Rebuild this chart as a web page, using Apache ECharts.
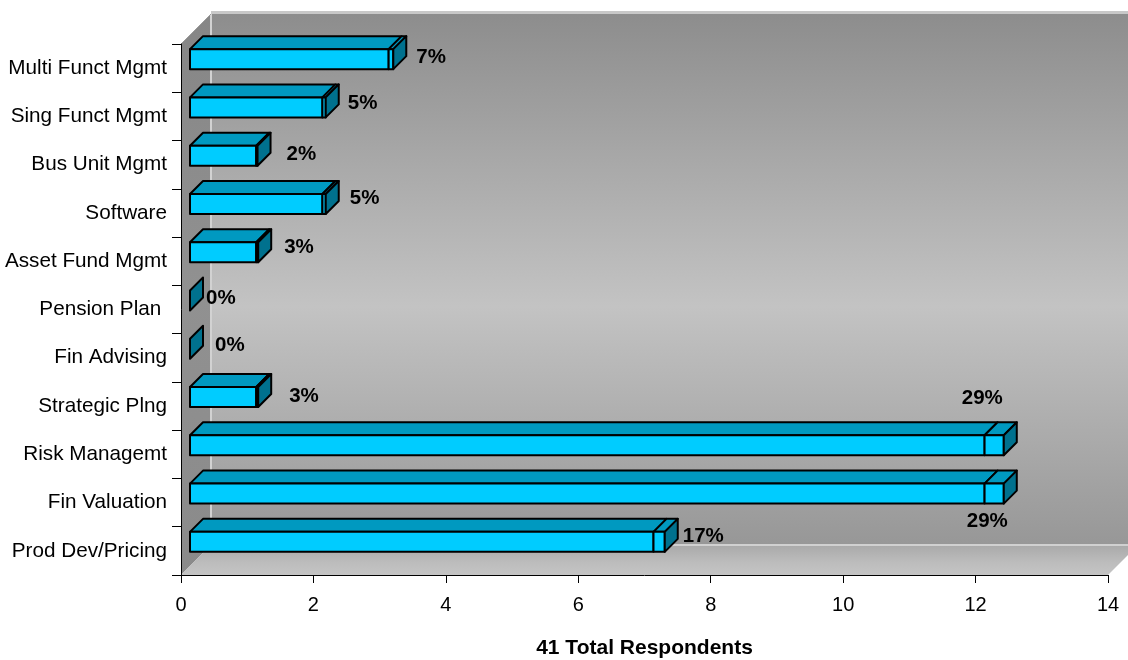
<!DOCTYPE html>
<html>
<head>
<meta charset="utf-8">
<script src="https://cdn.jsdelivr.net/npm/echarts@6/dist/echarts.min.js"></script>
<style>
  html, body { margin: 0; padding: 0; background: #ffffff; }
  #chart { width: 1128px; height: 660px; }
</style>
</head>
<body>
<div id="chart"></div>
<script>
// Categories listed bottom to top (a category y-axis starts at the bottom)
const categories = [
  'Prod Dev/Pricing', 'Fin Valuation', 'Risk Managemt', 'Strategic Plng',
  'Fin Advising', 'Pension Plan ', 'Asset Fund Mgmt', 'Software',
  'Bus Unit Mgmt', 'Sing Funct Mgmt', 'Multi Funct Mgmt'
];
// Number of respondents per category
const respondents = [7, 12, 12, 1, 0, 0, 1, 2, 1, 2, 3];
// Share of the 41 respondents, stacked on the end of each bar
const shares = [0.17, 0.29, 0.29, 0.03, 0, 0, 0.03, 0.05, 0.02, 0.05, 0.07];
// Value axis ticks
const axisMin = 0, axisMax = 14, axisStep = 2;
const axisTitle = '41 Total Respondents';

// Layout: label offsets (px) from the end of each bar's side face
const labelNudge = [
  [5, -6], [-50, 27.5], [-55, -47], [18, -1], [12, -3], [3, -2],
  [13, -5], [11, -6], [16, -1], [9, -4], [10, -1.5]
];

const FONT = '"Liberation Sans", Arial, Helvetica, sans-serif';
const DEPTH = 30;      // depth of the 3D box (walls / floor)
const BAR_OFF = 9;     // front face of the bars sits this far inside the box
const BAR_DEPTH = 13;  // bar thickness in depth
const BAR_FRAC = 0.414;
const FRONT = '#00CCFF', TOP = '#0099C0', SIDE = '#00718E';

const seriesData = categories.map((c, i) => [i, respondents[i], shares[i]]);

function wallsRender(params, api) {
  const cs = params.coordSys;
  const x0 = cs.x, y0 = cs.y, x1 = cs.x + cs.width, y1 = cs.y + cs.height;
  const D = DEPTH;
  const G = echarts.graphic.LinearGradient;
  return {
    type: 'group',
    children: [
      { type: 'rect', shape: { x: x0 + D, y: y0 - D, width: cs.width + 2, height: cs.height },
        style: { fill: new G(0, 0, 0, 1, [
          { offset: 0, color: '#8d8d8d' },
          { offset: 0.55, color: '#c3c3c3' },
          { offset: 1, color: '#979797' }]) } },
      { type: 'polygon', shape: { points: [[x0, y0], [x0 + D, y0 - D], [x0 + D, y1 - D], [x0, y1]] },
        style: { fill: new G(0, 0, 0, 1, [
          { offset: 0, color: '#868686' },
          { offset: 0.5, color: '#919191' },
          { offset: 1, color: '#8a8a8a' }]) } },
      { type: 'polygon', shape: { points: [[x0, y1], [x0 + D, y1 - D], [x1 + D, y1 - D], [x1, y1]] },
        style: { fill: new G(0, 0, 0, 1, [
          { offset: 0, color: '#a9a9a9' },
          { offset: 0.6, color: '#bdbdbd' },
          { offset: 1, color: '#c4c4c4' }]) } },
      { type: 'line', shape: { x1: x0 + D, y1: y0 - D, x2: x0 + D, y2: y1 - D },
        style: { stroke: '#d2d2d2', lineWidth: 2 } },
      { type: 'line', shape: { x1: x0 + D, y1: y0 - D - 1.5, x2: x1 + D + 4, y2: y0 - D - 1.5 },
        style: { stroke: '#c8c8c8', lineWidth: 3 } },
      { type: 'line', shape: { x1: x0 + D, y1: y1 - D, x2: x1 + D + 4, y2: y1 - D },
        style: { stroke: '#d0d0d0', lineWidth: 2 } },
      { type: 'line', shape: { x1: x0, y1: y0, x2: x0 + D, y2: y0 - D },
        style: { stroke: '#9a9a9a', lineWidth: 1 } }
    ]
  };
}

function barRender(params, api) {
  const idx = api.value(0), n = api.value(1), s = api.value(2);
  const p0 = api.coord([0, idx]);
  const p1 = api.coord([n, idx]);
  const p2 = api.coord([n + s, idx]);
  const h = api.size([0, 1])[1] * BAR_FRAC;
  const top = p0[1] - BAR_OFF - h / 2, bot = top + h;
  const xa = p0[0] + BAR_OFF, xb = p1[0] + BAR_OFF, xc = p2[0] + BAR_OFF;
  const d = BAR_DEPTH;
  const edge = { stroke: '#000', lineWidth: 2, lineJoin: 'round' };
  const kids = [];
  const segs = [[xa, xb], [xb, xc]];
  segs.forEach(([l, r]) => {
    if (r - l < 0.5) return;
    kids.push({ type: 'polygon',
      shape: { points: [[l, top], [l + d, top - d], [r + d, top - d], [r, top]] },
      style: Object.assign({ fill: TOP }, edge) });
    kids.push({ type: 'rect', shape: { x: l, y: top, width: r - l, height: h },
      style: Object.assign({ fill: FRONT }, edge) });
  });
  kids.push({ type: 'polygon',
    shape: { points: [[xc, top], [xc + d, top - d], [xc + d, bot - d], [xc, bot]] },
    style: Object.assign({ fill: SIDE }, edge) });
  const nudge = labelNudge[idx];
  kids.push({ type: 'text', z2: 10,
    style: { text: Math.round(s * 100) + '%', x: xc + d + nudge[0], y: (top + bot) / 2 + nudge[1],
      font: 'bold 20.5px ' + FONT, fill: '#000', align: 'left', verticalAlign: 'middle' } });
  return { type: 'group', children: kids };
}

const chart = echarts.init(document.getElementById('chart'), null, { renderer: 'canvas' });
chart.setOption({
  animation: false,
  backgroundColor: '#ffffff',
  grid: { left: 181, right: 20, top: 44, bottom: 85, containLabel: false, outerBoundsMode: 'none' },
  xAxis: {
    type: 'value', min: axisMin, max: axisMax, interval: axisStep,
    axisLine: { show: true, lineStyle: { color: '#000', width: 1 } },
    axisTick: { show: true, length: 8, lineStyle: { color: '#000' } },
    splitLine: { show: false },
    axisLabel: { color: '#000', fontSize: 20, fontFamily: FONT, margin: 20 },
    name: axisTitle, nameLocation: 'middle', nameGap: 63,
    nameTextStyle: { fontWeight: 'bold', fontSize: 21, fontFamily: FONT, color: '#000' }
  },
  yAxis: {
    type: 'category', data: categories,
    axisLine: { show: true, lineStyle: { color: '#000', width: 1 } },
    axisTick: { show: true, length: 9, lineStyle: { color: '#000' } },
    splitLine: { show: false },
    axisLabel: { color: '#000', fontSize: 20.7, fontFamily: FONT, margin: 14, interval: 0 }
  },
  series: [
    { type: 'custom', name: 'walls', z: -5, silent: true, clip: false,
      renderItem: wallsRender, data: [[0, 0]], encode: { x: 1, y: 0 } },
    { type: 'custom', name: 'respondents', z: 3, silent: true, clip: false,
      renderItem: barRender, data: seriesData, encode: { x: 1, y: 0 } }
  ]
});
</script>
</body>
</html>
